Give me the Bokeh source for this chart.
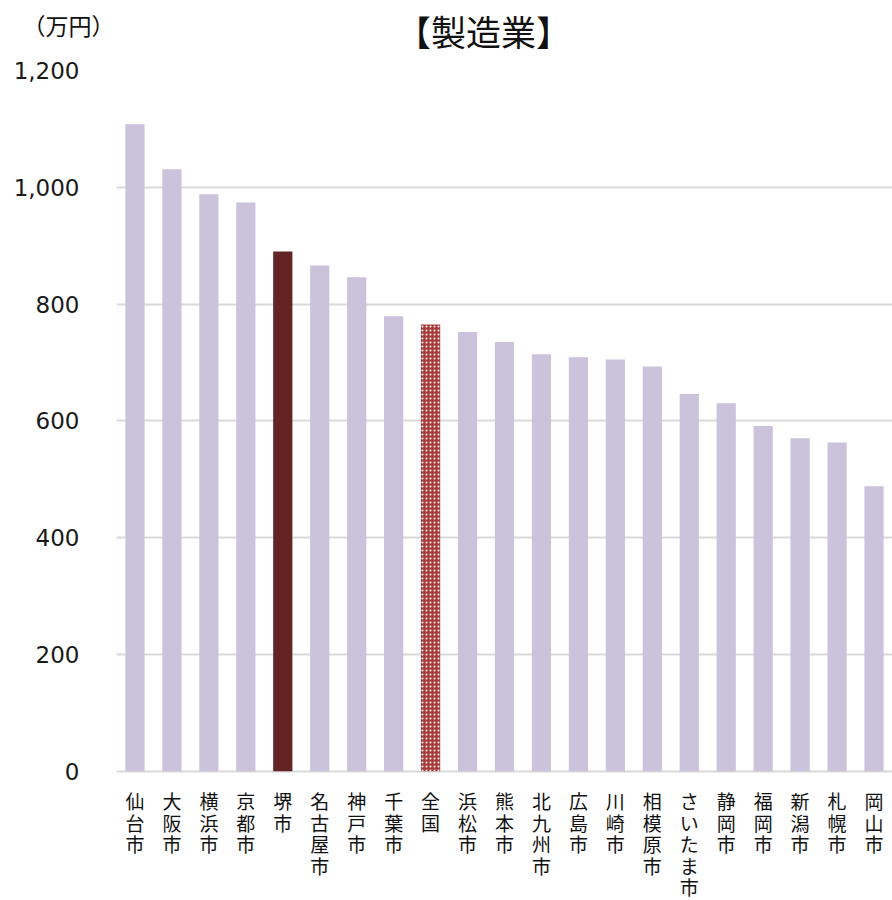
from bokeh.plotting import figure
from bokeh.models import ColumnDataSource, NumeralTickFormatter, FixedTicker, Range1d
from bokeh.layouts import column
from bokeh.core.properties import value
from bokeh.embed import file_html
from bokeh.resources import INLINE

cities = ["仙台市", "大阪市", "横浜市", "京都市", "堺市", "名古屋市", "神戸市", "千葉市", "全国",
          "浜松市", "熊本市", "北九州市", "広島市", "川崎市", "相模原市", "さいたま市", "静岡市",
          "福岡市", "新潟市", "札幌市", "岡山市"]
values = [1108, 1031, 988, 974, 890, 866, 846, 779, 765,
          752, 735, 714, 709, 705, 693, 646, 630,
          591, 570, 563, 488]
y_ticks = [0, 200, 400, 600, 800, 1000, 1200]
title_text = "【製造業】"
unit_text = "（万円）"

LAV = "#CBC2DC"
SAKAI = "#632523"
NAT = "#A83A3A"
TXT = "#111111"
JP = "Noto Sans CJK JP"

W = 892
TOP_H = 56
MAIN_T, MAIN_B = 14, 13
FRAME_H = 703
BOT_H = 900 - TOP_H - MAIN_T - FRAME_H - MAIN_B
LEFT = 116

normal = [(c, v) for c, v in zip(cities, values) if c not in ("堺市", "全国")]
src_norm = ColumnDataSource(dict(x=[c for c, v in normal], top=[v for c, v in normal]))
src_sakai = ColumnDataSource(dict(x=["堺市"], top=[values[cities.index("堺市")]]))
src_nat = ColumnDataSource(dict(x=["全国"], top=[values[cities.index("全国")]]))

# ---------- top strip: unit (as a y-axis tick label) + title ----------
UNIT_Y = 24
pt = figure(width=W, height=TOP_H, x_range=Range1d(LEFT, W), y_range=Range1d(TOP_H, 0),
            x_axis_type=None, output_backend="svg", toolbar_location=None,
            min_border_left=LEFT, min_border_right=0, min_border_top=0, min_border_bottom=0)
pt.outline_line_color = None
pt.grid.visible = False
pt.yaxis.ticker = FixedTicker(ticks=[UNIT_Y])
pt.yaxis.major_label_overrides = {UNIT_Y: unit_text}
pt.yaxis.axis_line_color = None
pt.yaxis.major_tick_line_color = None
pt.yaxis.minor_tick_line_color = None
pt.yaxis.major_label_standoff = -4
pt.yaxis.major_label_text_font = JP
pt.yaxis.major_label_text_font_size = "23px"
pt.yaxis.major_label_text_color = TXT
pt.text(x=[483], y=[30], text=[title_text], text_font=value(JP), text_font_size="35px",
        text_align="center", text_baseline="middle", text_color=TXT)

# ---------- main chart ----------
p = figure(x_range=cities, y_range=(-4, 1200), width=W, height=MAIN_T + FRAME_H + MAIN_B,
           output_backend="svg", toolbar_location=None, x_axis_type=None,
           min_border_left=LEFT, min_border_top=MAIN_T, min_border_right=0,
           min_border_bottom=MAIN_B)
p.x_range.range_padding = 0
p.outline_line_color = None

p.vbar(x="x", top="top", width=0.52, source=src_norm, fill_color=LAV, line_color=None)
p.vbar(x="x", top="top", width=0.52, source=src_sakai, fill_color=SAKAI, line_color=None)
p.vbar(x="x", top="top", width=0.52, source=src_nat, fill_color=NAT, line_color=None,
       hatch_pattern="dot", hatch_color="white", hatch_scale=4, hatch_weight=2)

p.ygrid.grid_line_color = "#D9D9D9"
p.ygrid.grid_line_width = 2

p.yaxis.ticker = FixedTicker(ticks=y_ticks)
p.yaxis.formatter = NumeralTickFormatter(format="0,0")
p.yaxis.axis_line_color = None
p.yaxis.major_tick_line_color = None
p.yaxis.minor_tick_line_color = None
p.yaxis.major_label_standoff = 31
p.yaxis.major_label_text_font = "DejaVu Sans"
p.yaxis.major_label_text_font_size = "23px"
p.yaxis.major_label_text_color = "#1a1a1a"

# ---------- bottom strip: vertical category labels ----------
ROW = 21.5
FIRST = 14
lx, ly, lt = [], [], []
for c in cities:
    for k, ch in enumerate(c):
        lx.append(c)
        ly.append(-(FIRST + ROW * k))
        lt.append(ch)
src_lab = ColumnDataSource(dict(x=lx, y=ly, text=lt))

pb = figure(width=W, height=BOT_H, x_range=p.x_range, y_range=Range1d(-BOT_H, 0),
            x_axis_type=None, y_axis_type=None, output_backend="svg", toolbar_location=None,
            min_border_left=LEFT, min_border_right=0, min_border_top=0, min_border_bottom=0)
pb.outline_line_color = None
pb.grid.visible = False
pb.text(x="x", y="y", text="text", source=src_lab, text_font=value(JP),
        text_font_size="19px", text_align="center", text_baseline="middle", text_color=TXT)

layout = column(pt, p, pb, spacing=0)
open("out.html", "w").write(file_html(layout, INLINE))
